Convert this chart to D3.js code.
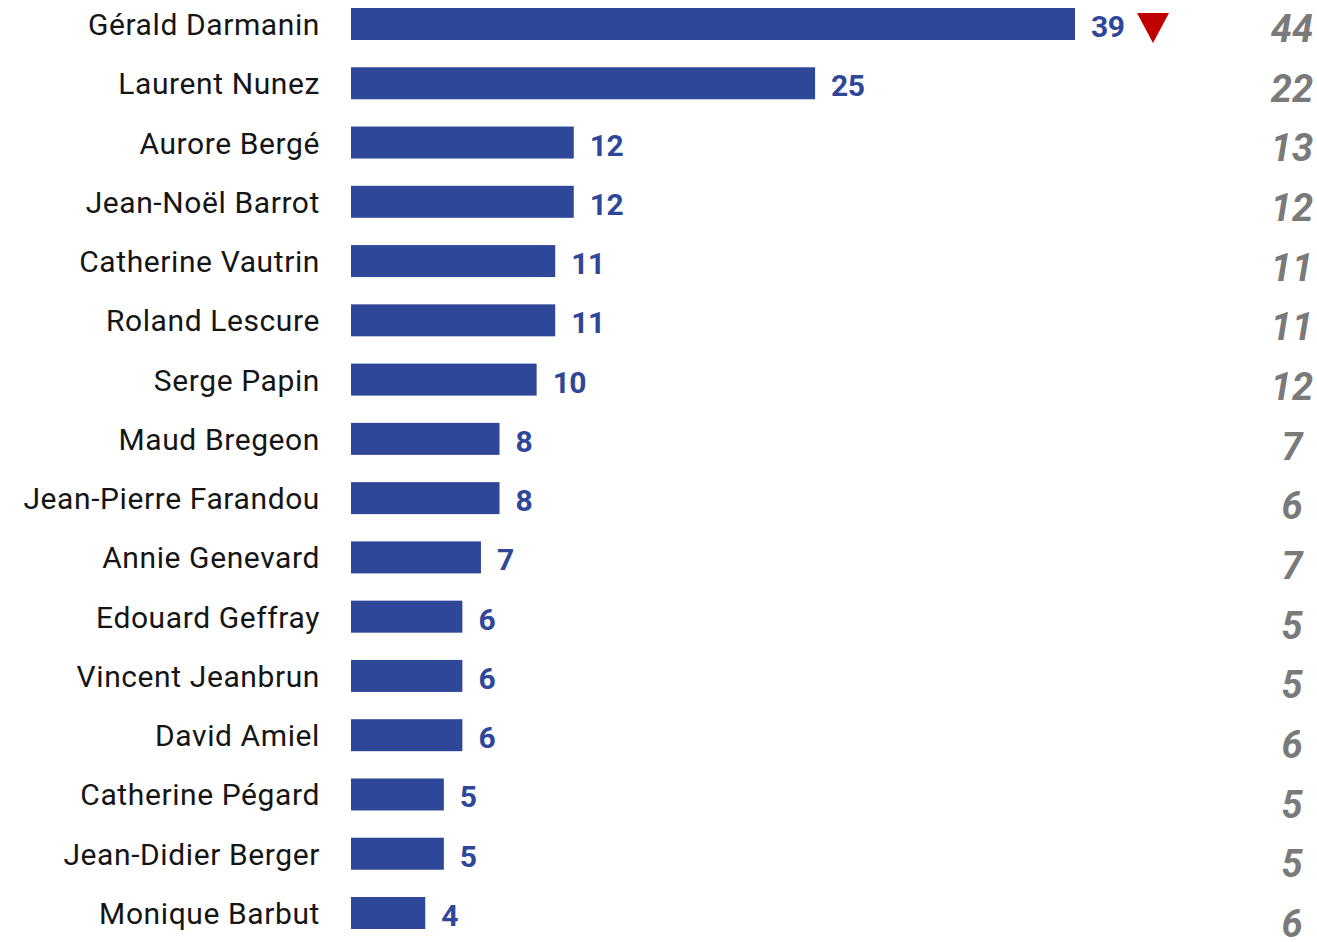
<!DOCTYPE html>
<html><head><meta charset="utf-8">
<script src="https://cdn.jsdelivr.net/npm/d3@7"></script>
<style>body{margin:0;background:#fff}svg{display:block}</style>
</head><body>
<script>
const names = ["Gérald Darmanin","Laurent Nunez","Aurore Bergé","Jean-Noël Barrot","Catherine Vautrin","Roland Lescure","Serge Papin","Maud Bregeon","Jean-Pierre Farandou","Annie Genevard","Edouard Geffray","Vincent Jeanbrun","David Amiel","Catherine Pégard","Jean-Didier Berger","Monique Barbut"];
const values = [39,25,12,12,11,11,10,8,8,7,6,6,6,5,5,4];
const previous = [44,22,13,12,11,11,12,7,6,7,5,5,6,5,5,6];
const downMarks = ["Gérald Darmanin"];

const W = 1317, H = 942;
const svg = d3.select("body").append("svg").attr("width", W).attr("height", H);
const x = d3.scaleLinear().domain([0, 39]).range([351, 1075]);
const y = d3.scaleBand().domain(names).range([8, 929]).paddingInner(0.46).paddingOuter(0);
const y2 = d3.scalePoint().domain(names).range([42, 937]);

const blue = "#2f4799";
const g = svg.append("g");
const rows = g.selectAll("g.row").data(names.map((n, i) => ({n, v: values[i], p: previous[i]}))).join("g");

rows.append("rect")
  .attr("x", x(0)).attr("y", d => y(d.n))
  .attr("width", d => x(d.v) - x(0)).attr("height", y.bandwidth())
  .attr("fill", blue);

rows.append("text")
  .attr("x", 320).attr("y", d => y(d.n) + y.bandwidth()/2 + 11)
  .attr("text-anchor", "end")
  .attr("font-family", "Roboto, sans-serif").attr("font-size", 30)
  .attr("letter-spacing", "0.6px")
  .attr("fill", "#151515")
  .text(d => d.n);

rows.append("text")
  .attr("class", "val")
  .attr("x", d => x(d.v) + 16).attr("y", d => y(d.n) + y.bandwidth()/2 + 13)
  .attr("font-family", "Roboto, sans-serif").attr("font-weight", 700).attr("font-size", 30)
  .attr("letter-spacing", "-0.5px")
  .attr("fill", blue)
  .text(d => d.v);

rows.append("text")
  .attr("x", 1292).attr("y", d => y2(d.n))
  .attr("text-anchor", "middle")
  .attr("font-family", "Roboto, sans-serif").attr("font-weight", 700).attr("font-style", "italic").attr("font-size", 38)
  .attr("fill", "#7a7a7a")
  .text(d => d.p);

// down triangles
rows.filter(d => downMarks.includes(d.n)).each(function(d) {
  const cx = x(d.v) + 78, cy = y(d.n) + y.bandwidth()/2;
  d3.select(this).append("path")
    .attr("d", d3.line()([[cx - 16, cy - 11], [cx + 16, cy - 11], [cx, cy + 19]]) + "Z")
    .attr("fill", "#c00000");
});
</script>
</body></html>
